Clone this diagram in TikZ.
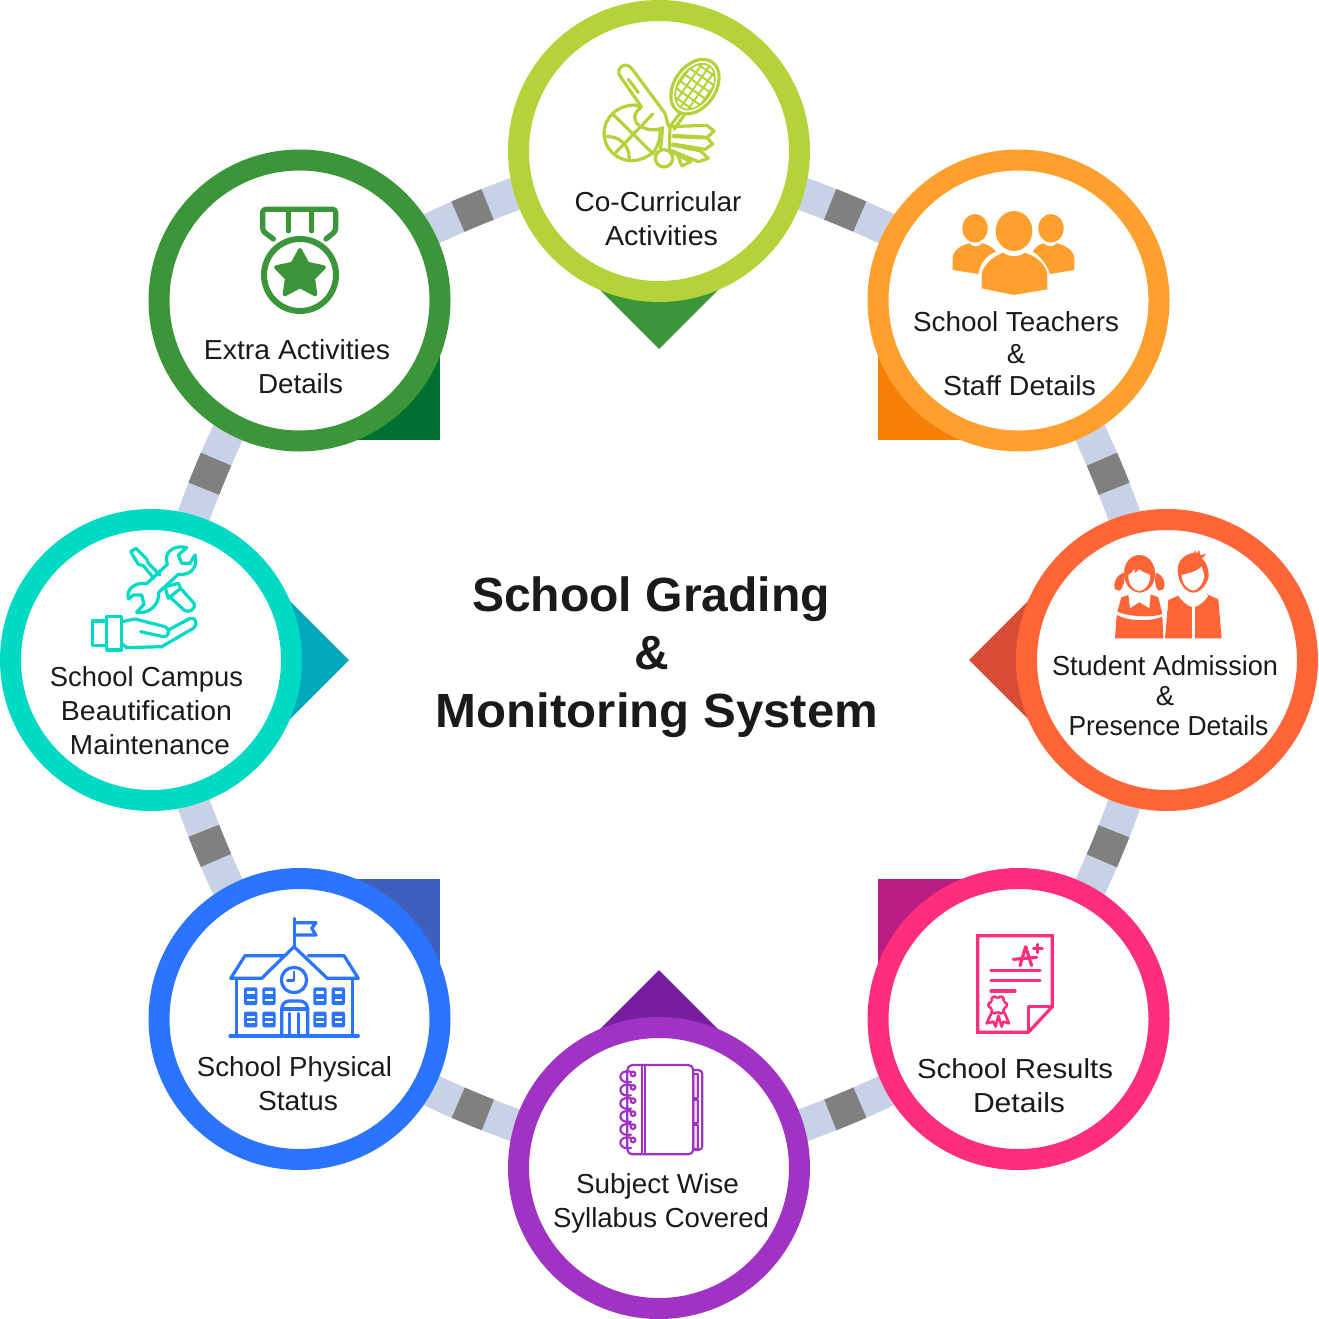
\documentclass[tikz,border=0pt]{standalone}
\usepackage{graphicx}
\usepackage{fontspec}
\setmainfont{Liberation Sans}
\usetikzlibrary{backgrounds}
\definecolor{cA}{HTML}{B4D33B}\definecolor{pA}{HTML}{3A9638}
\definecolor{cB}{HTML}{FFA02E}\definecolor{pB}{HTML}{F57F08}
\definecolor{cC}{HTML}{FF6536}\definecolor{pC}{HTML}{D84B35}
\definecolor{cD}{HTML}{FF2D7E}\definecolor{pD}{HTML}{B91F82}
\definecolor{cE}{HTML}{A033C4}\definecolor{pE}{HTML}{781FA0}
\definecolor{cF}{HTML}{2B74FF}\definecolor{pF}{HTML}{3E60BC}
\definecolor{cG}{HTML}{00DAC5}\definecolor{pG}{HTML}{00A9BC}
\definecolor{cH}{HTML}{3A9638}\definecolor{pH}{HTML}{006F32}
\definecolor{bandc}{HTML}{C8D2E6}\definecolor{markc}{HTML}{808080}
\definecolor{ink}{HTML}{1A1A1A}
\newcommand{\fitw}[2]{\resizebox{#1pt}{\height}{#2}}
\tikzset{
  hub/.style={circle,draw=#1,fill=white,line width=21pt,minimum size=281pt,inner sep=0pt},
  band/.style={line width=33pt,draw=bandc},
  bandmark/.style={line width=33pt,draw=markc,dash pattern=on 0.01pt off 179.39pt on 32pt off 500pt},
  lbl/.style={anchor=base,inner sep=0pt,text=ink,font=\fontsize{27.5}{32}\selectfont},
  ttl/.style={anchor=base,inner sep=0pt,text=ink,font=\fontsize{48}{56}\selectfont\bfseries},
  zoomat/.style 2 args={shift={(#1,#2)},x=.33333pt,y=-.33333pt},
  ico/.style={draw=#1,line width=3.2pt,line cap=round,line join=round},
}
\begin{document}
\begin{tikzpicture}[x=1pt,y=-1pt]
\useasboundingbox (0,0) rectangle (1318,1319);
\node[hub=cA] (top) at (659,151) {};
\node[hub=cB] (tr) at (1018.5,300.5) {};
\node[hub=cC] (rt) at (1167,660) {};
\node[hub=cD] (br) at (1018.5,1019) {};
\node[hub=cE] (bot) at (659,1168) {};
\node[hub=cF] (bl) at (299.5,1019) {};
\node[hub=cG] (lf) at (151,660) {};
\node[hub=cH] (tl) at (299.5,300.5) {};
\begin{scope}[on background layer]
\foreach \a/\b in {top/tr,tr/rt,rt/br,br/bot,bot/bl,bl/lf,lf/tl,tl/top}{
  \draw[band] (\a.center) to[bend left=8.4] (\b.center);
  \draw[bandmark] (\a.center) to[bend left=8.4] (\b.center);
}
\fill[pA] (top.center) -- ++(-99,99) -- ++(99,99) -- ++(99,-99) -- cycle;
\fill[pB] (tr.center) rectangle (878,440);
\fill[pC] (rt.center) -- ++(-99,-99) -- ++(-99,99) -- ++(99,99) -- cycle;
\fill[pD] (br.center) rectangle (878,879);
\fill[pE] (bot.center) -- ++(-99,-99) -- ++(99,-99) -- ++(99,99) -- cycle;
\fill[pF] (bl.center) rectangle (440,879);
\fill[pG] (lf.center) -- ++(99,-99) -- ++(99,99) -- ++(-99,99) -- cycle;
\fill[pH] (tl.center) rectangle (440,440);
\end{scope}
% texts
\node[ttl] (t1) at (651,611) {\fitw{358}{School Grading}};
\node[ttl] (t2) at (652,669) {\&};
\node[ttl] (t3) at (657,727) {\fitw{442}{Monitoring System}};
\node[lbl] (a1) at (658,211) {\fitw{167}{Co-Curricular}};
\node[lbl] (a2) at (661.5,245) {\fitw{113}{Activities}};
\node[lbl] (b1) at (1016,331) {\fitw{206}{School Teachers}};
\node[lbl] (b2) at (1016,363) {\&};
\node[lbl] (b3) at (1019.5,395) {\fitw{153}{Staff Details}};
\node[lbl] (c1) at (1165,675) {\fitw{226}{Student Admission}};
\node[lbl] (c2) at (1165,705) {\&};
\node[lbl] (c3) at (1168.5,735) {\fitw{200}{Presence Details}};
\node[lbl] (d1) at (1015,1078) {\fitw{196}{School Results}};
\node[lbl] (d2) at (1019,1112) {\fitw{92}{Details}};
\node[lbl] (e1) at (657.5,1193) {\fitw{163}{Subject Wise}};
\node[lbl] (e2) at (661,1227) {\fitw{216}{Syllabus Covered}};
\node[lbl] (f1) at (294.5,1076) {\fitw{195}{School Physical}};
\node[lbl] (f2) at (298,1110) {\fitw{80}{Status}};
\node[lbl] (g1) at (146.5,686) {\fitw{193}{School Campus}};
\node[lbl] (g2) at (146.5,720) {\fitw{171}{Beautification}};
\node[lbl] (g3) at (150,754) {\fitw{160}{Maintenance}};
\node[lbl] (h1) at (297,359) {\fitw{186}{Extra Activities}};
\node[lbl] (h2) at (300.5,393) {\fitw{85}{Details}};
% icon: sports
\begin{scope}[zoomat={590}{50}]
\draw[ico=cA] (150,175) .. controls (130,190) and (128,215) .. (150,228) .. controls (170,240) and (195,243) .. (215,235);
\draw[ico=cA] (135,165) .. controls (80,165) and (42,205) .. (42,250) .. controls (42,295) and (80,332) .. (125,332) .. controls (150,332) and (175,320) .. (192,305);
\draw[ico=cA] (210,240) .. controls (212,265) and (205,285) .. (192,305);
\draw[ico=cA] (68,192) -- (190,312);
\draw[ico=cA] (188,192) -- (75,310);
\draw[ico=cA] (44,260) .. controls (85,255) and (120,285) .. (118,328);
\draw[ico=cA] (135,165) -- (155,172) -- (90,78) .. controls (75,55) and (108,30) .. (127,58) -- (225,190) -- (235,228);
\draw[ico=cA] (115,88) -- (145,128);
\draw[ico=cA,shift={(315,110)},rotate=-35] (0,0) ellipse (62 and 90);
\draw[ico=cA,line width=1.8pt,shift={(315,110)},rotate=-35] (0,0) ellipse (50 and 76);
\begin{scope}
\clip[shift={(315,110)},rotate=-35] (0,0) ellipse (50 and 76);
\foreach \k in {-45,-22,0,22,45}{
  \draw[cA,line width=2pt,shift={(315,110)},rotate=-35] (\k,-80) -- (\k,80);
}
\foreach \k in {-60,-36,-12,12,36,60}{
  \draw[cA,line width=2pt,shift={(315,110)},rotate=-35] (-60,\k) -- (60,\k);
}
\end{scope}
\draw[ico=cA] (270,190) -- (238,232);
\draw[ico=cA] (283,195) -- (252,238);
\draw[ico=cA] (240,230) -- (350,226) -- (372,243) -- (352,262) -- (250,256);
\draw[ico=cA] (250,260) -- (352,264) -- (368,282) -- (345,298) -- (248,282);
\draw[ico=cA] (246,285) -- (332,303) -- (355,325) -- (325,335) -- (240,300);
\draw[ico=cA] (240,304) -- (302,335) -- (275,348) -- (265,320);
\draw[ico=cA] (218,232) -- (212,295);
\draw[ico=cA] (240,232) -- (238,300);
\draw[ico=cA] (222,325) circle (26);
\end{scope}
% icon: teachers
\begin{scope}[zoomat={940}{200}]
\fill[cB] (105,85) ellipse (38 and 43);
\fill[cB] (333,85) ellipse (38 and 43);
\fill[cB] (222,93) ellipse (55 and 60);
\fill[cB] (38,210) -- (38,175) .. controls (38,150) and (65,135) .. (88,130) .. controls (100,142) and (115,142) .. (127,130) .. controls (145,133) and (160,145) .. (168,155) .. controls (140,165) and (120,190) .. (115,222) -- cycle;
\fill[cB] (403,210) -- (403,175) .. controls (403,150) and (373,135) .. (350,130) .. controls (338,142) and (323,142) .. (311,130) .. controls (293,133) and (285,145) .. (278,155) .. controls (298,165) and (318,190) .. (330,222) -- cycle;
\fill[cB] (125,265) -- (125,230) .. controls (125,195) and (160,170) .. (190,158) .. controls (205,172) and (240,172) .. (255,158) .. controls (290,170) and (322,195) .. (322,230) -- (322,268) -- (222,285) -- cycle;
\end{scope}
% icon: students
\begin{scope}[zoomat={1100}{540}]
\fill[cC] (72,100) .. controls (72,65) and (95,45) .. (118,45) .. controls (145,45) and (165,70) .. (165,100) .. controls (165,130) and (150,155) .. (118,158) .. controls (90,155) and (72,130) .. (72,100) -- cycle;
\fill[white] (85,105) .. controls (95,100) and (100,90) .. (103,88) -- (105,100) -- (118,88) .. controls (125,95) and (140,100) .. (150,105) .. controls (152,130) and (135,152) .. (118,153) .. controls (100,152) and (83,130) .. (85,105) -- cycle;
\fill[cC] (72,98) .. controls (50,105) and (38,125) .. (45,148) -- (60,152) .. controls (72,140) and (75,120) .. (72,98) -- cycle;
\fill[cC] (168,98) .. controls (190,105) and (200,130) .. (190,148) -- (175,152) .. controls (165,140) and (162,120) .. (168,98) -- cycle;
\fill[cC] (52,215) -- (64,172) -- (85,165) -- (90,205) -- (118,187) -- (148,205) -- (152,163) -- (175,172) -- (187,222) .. controls (165,232) and (90,232) .. (52,215) -- cycle;
\fill[cC] (50,225) .. controls (90,245) and (150,245) .. (187,230) -- (190,295) -- (45,295) -- cycle;
\fill[cC] (233,90) .. controls (233,60) and (255,42) .. (283,38) -- (284,30) -- (290,40) -- (298,30) -- (300,45) -- (318,42) -- (306,56) .. controls (318,65) and (326,85) .. (326,105) .. controls (326,125) and (305,158) .. (280,158) .. controls (255,158) and (233,125) .. (233,90) -- cycle;
\fill[white] (245,105) .. controls (265,100) and (290,95) .. (305,80) .. controls (310,95) and (312,100) .. (313,110) .. controls (310,130) and (295,150) .. (280,152) .. controls (262,150) and (245,130) .. (245,105) -- cycle;
\fill[cC] (195,295) -- (205,180) -- (240,165) .. controls (250,178) and (265,192) .. (279,195) .. controls (295,192) and (310,178) .. (320,162) -- (355,178) -- (365,295) -- cycle;
\draw[white,line width=2.5pt] (238,165) .. controls (250,182) and (265,195) .. (280,198) .. controls (295,195) and (310,182) .. (322,165);
\draw[white,line width=3pt] (280,198) -- (280,296);
\end{scope}
% icon: results
\begin{scope}[zoomat={965}{925}]
\draw[ico=cD,line join=miter] (38,32) -- (262,32) -- (262,245) -- (190,322) -- (38,322) -- cycle;
\draw[ico=cD] (190,320) -- (190,245) -- (262,245);
\draw[ico=cD] (78,137) -- (225,137);
\draw[ico=cD] (78,167) -- (225,167);
\draw[ico=cD] (78,198) -- (150,198);
\draw[ico=cD] (165,122) -- (182,65) -- (200,122);
\draw[ico=cD] (145,103) -- (215,97);
\draw[ico=cD] (205,70) -- (232,70);
\draw[ico=cD] (218,58) -- (218,83);
\foreach \t in {0,60,...,300}{
  \draw[ico=cD,line width=2.6pt,shift={(98,240)}] (\t:19) circle (9);
}
\fill[white,shift={(98,240)}] (0,0) circle (19);
\draw[ico=cD,line width=2.6pt] (80,262) -- (65,295) -- (85,290) -- (92,305) -- (100,272) -- (110,305) -- (115,290) -- (132,295) -- (118,262);
\end{scope}
% icon: notebook
\begin{scope}[zoomat={605}{1055}]
\fill[cE!22] (265,55) rectangle (278,280);
\draw[ico=cE,line width=2.2pt,rounded corners=5pt] (67,30) rectangle (265,298);
\draw[ico=cE,line width=2.2pt] (110,30) -- (110,298);
\draw[ico=cE,line width=2.2pt] (120,30) -- (120,298);
\draw[ico=cE,line width=2.2pt,rounded corners=4pt] (265,45) -- (292,45) -- (292,285) -- (265,285);
\draw[ico=cE,line width=2.2pt] (265,58) -- (278,58) -- (278,130) -- (265,130);
\draw[ico=cE,line width=2.2pt] (265,135) -- (278,135) -- (278,205) -- (265,205);
\draw[ico=cE,line width=2.2pt] (265,210) -- (278,210) -- (278,282) -- (265,282);
\foreach \y in {57,97,137,176,215,255}{
  \draw[ico=cE,line width=2.2pt] (84,\y) circle (7);
  \draw[ico=cE,line width=2.2pt] (78,\y-7) .. controls (58,\y-12) and (44,\y-2) .. (46,\y+10) .. controls (48,\y+22) and (62,\y+27) .. (78,\y+24);
}
\end{scope}
% icon: school
\begin{scope}[zoomat={220}{910}]
\draw[ico=cF] (223,25) -- (223,110);
\draw[ico=cF] (223,38) -- (288,38) -- (275,55) -- (288,75) -- (223,75);
\draw[ico=cF] (190,137) -- (75,137) -- (32,205) -- (125,205) -- (222,110) -- (322,205) -- (415,205) -- (372,137) -- (265,137);
\draw[ico=cF] (50,205) -- (50,378);
\draw[ico=cF] (397,205) -- (397,378);
\draw[ico=cF] (30,378) -- (415,378);
\draw[ico=cF] (222,210) circle (38);
\draw[ico=cF,line width=2.6pt] (222,185) -- (222,212) -- (202,212);
\foreach \x in {72,127,280,335}{
  \foreach \y/\h in {232/53,305/47}{
    \fill[cF,rounded corners=2pt] (\x,\y) rectangle ++(40,\h);
    \fill[white] (\x+9,\y+12) rectangle ++(23,7);
    \fill[white] (\x+9,\y+\h-19) rectangle ++(23,7);
  }
}
\draw[ico=cF] (185,378) -- (185,297) .. controls (185,283) and (195,273) .. (208,273) -- (240,273) .. controls (252,273) and (263,283) .. (263,297) -- (263,378);
\draw[ico=cF] (185,297) -- (263,297);
\draw[ico=cF] (208,310) -- (208,378);
\draw[ico=cF] (235,310) -- (235,378);
\end{scope}
% icon: tools
\begin{scope}[zoomat={80}{535}]
\draw[ico=cG] (37,258) rectangle (80,332);
\draw[ico=cG] (80,245) rectangle (125,345);
\draw[ico=cG] (125,260) -- (165,252) -- (255,275) .. controls (270,280) and (270,305) .. (250,305) -- (182,290);
\draw[ico=cG] (265,285) -- (330,250) .. controls (348,245) and (355,270) .. (340,280) -- (245,335) -- (140,338) -- (125,325);
\draw[ico=cG] (320,38) -- (295,60) -- (305,85) -- (330,85) -- (345,60) .. controls (355,100) and (330,122) .. (295,118) -- (236,172) .. controls (240,210) and (205,238) .. (170,232) -- (192,208) -- (185,180) -- (160,180) -- (146,192) .. controls (135,165) and (165,140) .. (200,146) -- (262,88) .. controls (248,50) and (285,28) .. (320,38) -- cycle;
\draw[ico=cG] (222,130) -- (190,92) -- (175,88) -- (152,50) -- (168,40) -- (200,72) -- (205,85) -- (240,120);
\draw[ico=cG] (255,155) -- (295,145) -- (302,160) -- (265,190) -- cycle;
\draw[ico=cG] (272,188) -- (312,225) .. controls (325,235) and (348,225) .. (342,205) -- (302,160);
\end{scope}
% icon: medal
\begin{scope}[zoomat={245}{195}]
\draw[ico=cH,line width=5.3pt,rounded corners=3pt] (85,132) -- (53,108) -- (53,43) -- (272,43) -- (272,108) -- (243,132);
\draw[ico=cH,line width=5pt] (130,45) -- (130,108);
\draw[ico=cH,line width=5pt] (200,45) -- (200,108);
\draw[ico=cH,line width=6pt] (165,240) circle (108);
\filldraw[cH,line width=4pt,line join=round] (165,165) -- (187,206) -- (237,217) -- (204,250) -- (211,298) -- (165,274) -- (119,298) -- (126,250) -- (93,217) -- (143,206) -- cycle;
\end{scope}
\end{tikzpicture}
\end{document}
